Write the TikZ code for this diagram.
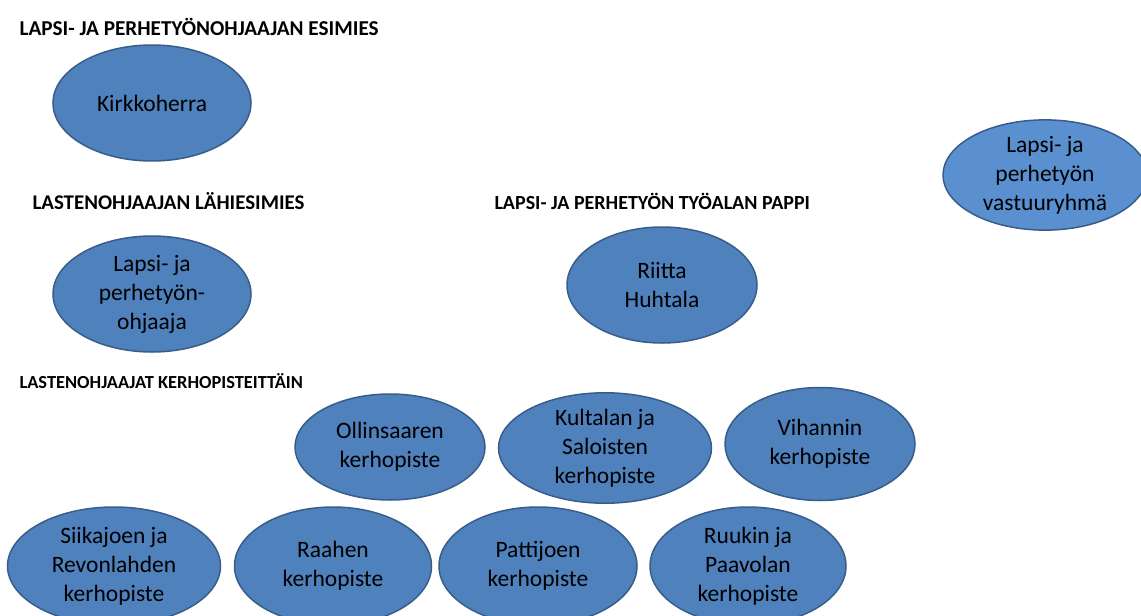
\documentclass[tikz,border=0pt]{standalone}
\usepackage{fontspec}
\setmainfont{Carlito}
\usetikzlibrary{shapes.geometric, positioning}
\definecolor{ovalfill}{HTML}{4F81BD}
\definecolor{ovaldraw}{HTML}{385D8A}
\definecolor{groupfill}{HTML}{5A8FD0}
\tikzset{
    x=1pt, y=-1pt, % one unit is one pixel of the layout
    every oval/.style={ellipse, draw=ovaldraw, fill=ovalfill, line width=1.5pt,
        inner sep=0pt, align=center, font=\fontsize{23.5}{29}\selectfont},
    oval/.style={every oval, minimum width=198pt, minimum height=116pt}, % sets the size of each oval
    heading/.style={anchor=west, font=\fontsize{#1}{20}\selectfont\bfseries}, % the titles above the ovals
}
\begin{document}
\begin{tikzpicture}
\useasboundingbox (0,0) rectangle (1141,616);
% titles
\node[heading=21.2] (h1) at (16,27)  {LAPSI- JA PERHETYÖNOHJAAJAN ESIMIES};
\node[heading=20.9] (h2) at (29,201) {LASTENOHJAAJAN LÄHIESIMIES};
\node[heading=20]   (h3) at (491,201) {LAPSI- JA PERHETYÖN TYÖALAN PAPPI};
\node[heading=18.4] (h4) at (16,381) {LASTENOHJAAJAT KERHOPISTEITTÄIN};
% ovals
\node[oval] (kirkkoherra) at (152,103) {Kirkkoherra};
\node[oval] (ohjaaja)     at (152,294) {Lapsi- ja\\perhetyön-\\ohjaaja};
\node[oval, minimum width=190pt] (pappi) at (662,285) {Riitta\\Huhtala};
\node[oval, fill=groupfill, minimum width=204pt, minimum height=106pt] (vastuu) at (1045,175)
    {Lapsi- ja\\perhetyön\\vastuuryhmä};
\node[oval, minimum width=190pt, minimum height=106pt] (ollinsaari) at (390,447) {Ollinsaaren\\kerhopiste};
\node[oval, minimum width=213pt, minimum height=104pt] (kultala)    at (605,448) {Kultalan ja\\Saloisten\\kerhopiste};
\node[oval, minimum width=190pt, minimum height=113pt] (vihanti)    at (820,444) {Vihannin\\kerhopiste};
\node[oval, minimum width=213pt, minimum height=118pt] (siikajoki) at (114,566) {Siikajoen ja\\Revonlahden\\kerhopiste};
\node[oval, minimum width=197pt, minimum height=118pt] (raahe)     at (333,566) {Raahen\\kerhopiste};
\node[oval, minimum width=198pt, minimum height=118pt] (pattijoki) at (538,566) {Pattijoen\\kerhopiste};
\node[oval, minimum width=196pt, minimum height=118pt] (ruukki)    at (748,566) {Ruukin ja\\Paavolan\\kerhopiste};
\end{tikzpicture}
\end{document}
